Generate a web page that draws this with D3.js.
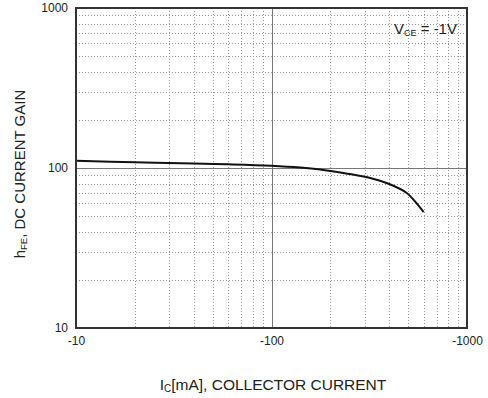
<!DOCTYPE html>
<html><head><meta charset="utf-8">
<script src="https://cdn.jsdelivr.net/npm/d3@7"></script>
<style>body{margin:0;background:#fff}svg{display:block;font-family:"Liberation Sans",Arial,sans-serif}</style>
</head><body>
<svg id="c" width="488" height="398"></svg>
<script>
const icValues = [10, 20, 40, 60, 100, 177, 250, 320, 400, 490, 550, 600];
const hfeValues = [111, 108.5, 106.5, 105.5, 103.2, 98, 91.7, 86.6, 79.4, 70, 60.5, 53];
const xTickValues = [10, 100, 1000];
const xTickLabels = ["-10", "-100", "-1000"];
const yTickValues = [10, 100, 1000];
const yTickLabels = ["10", "100", "1000"];

const svg = d3.select("#c");
const L = 76, R = 467, T = 8, B = 328;
const x = d3.scaleLog().domain([10, 1000]).range([L, R]);
const y = d3.scaleLog().domain([10, 1000]).range([B, T]);

const minor = [];
for (let d = 10; d < 1000; d *= 10) for (let k = 2; k <= 9; k++) minor.push(d * k);

const g = svg.append("g");
g.selectAll("line.vx").data(minor).join("line")
  .attr("x1", d => Math.round(x(d)) + 0.5).attr("x2", d => Math.round(x(d)) + 0.5)
  .attr("y1", T).attr("y2", B)
  .attr("stroke", "#999").attr("stroke-width", 1).attr("stroke-dasharray", "1,2");
g.selectAll("line.hy").data(minor).join("line")
  .attr("y1", d => Math.round(y(d)) + 0.5).attr("y2", d => Math.round(y(d)) + 0.5)
  .attr("x1", L).attr("x2", R)
  .attr("stroke", "#999").attr("stroke-width", 1).attr("stroke-dasharray", "1,2");
// major
g.append("line").attr("x1", Math.round(x(100)) + 0.5).attr("x2", Math.round(x(100)) + 0.5)
  .attr("y1", T).attr("y2", B).attr("stroke", "#777").attr("stroke-width", 1);
g.append("line").attr("y1", Math.round(y(100)) + 0.5).attr("y2", Math.round(y(100)) + 0.5)
  .attr("x1", L).attr("x2", R).attr("stroke", "#777").attr("stroke-width", 1);

// curve
const pts = icValues.map((v, i) => [v, hfeValues[i]]);
svg.append("path").datum(pts)
  .attr("d", d3.line().x(d => x(d[0])).y(d => y(d[1])).curve(d3.curveCatmullRom.alpha(0.5)))
  .attr("fill", "none").attr("stroke", "#111").attr("stroke-width", 2);

// frame
svg.append("rect").attr("x", L).attr("y", T).attr("width", R - L).attr("height", B - T)
  .attr("fill", "none").attr("stroke", "#333").attr("stroke-width", 2);

// axes (labels only)
const xAxis = d3.axisBottom(x).tickValues(xTickValues)
  .tickFormat((d, i) => xTickLabels[i]).tickSize(0).tickPadding(8);
const xa = svg.append("g").attr("transform", `translate(0,${B})`).call(xAxis);
xa.select(".domain").remove();
xa.selectAll("text").attr("font-size", 12).attr("fill", "#222").attr("font-family", "Liberation Sans, Arial, sans-serif");

const yAxis = d3.axisLeft(y).tickValues(yTickValues)
  .tickFormat((d, i) => yTickLabels[i]).tickSize(0).tickPadding(8);
const ya = svg.append("g").attr("transform", `translate(${L},0)`).call(yAxis);
ya.select(".domain").remove();
ya.selectAll("text").attr("font-size", 12).attr("fill", "#222").attr("font-family", "Liberation Sans, Arial, sans-serif");

// annotation
const ann = svg.append("text").attr("x", 394).attr("y", 34).attr("font-size", 15).attr("fill", "#222");
ann.append("tspan").text("V");
ann.append("tspan").attr("font-size", 9).attr("dy", 2).text("CE");
ann.append("tspan").attr("dy", -2).text(" = -1V");

// x label
const xl = svg.append("text").attr("x", 273).attr("y", 390).attr("text-anchor", "middle")
  .attr("font-size", 15.5).attr("fill", "#222");
xl.append("tspan").text("I");
xl.append("tspan").attr("font-size", 10).attr("dy", 2).text("C");
xl.append("tspan").attr("dy", -2).text("[mA], COLLECTOR CURRENT");

// y label
const yl = svg.append("text").attr("transform", "translate(25,174) rotate(-90)")
  .attr("text-anchor", "middle").attr("font-size", 15).attr("fill", "#222");
yl.append("tspan").text("h");
yl.append("tspan").attr("font-size", 9.5).attr("dy", 2).text("FE");
yl.append("tspan").attr("dy", -2).text(", DC CURRENT GAIN");
</script>
</body></html>
